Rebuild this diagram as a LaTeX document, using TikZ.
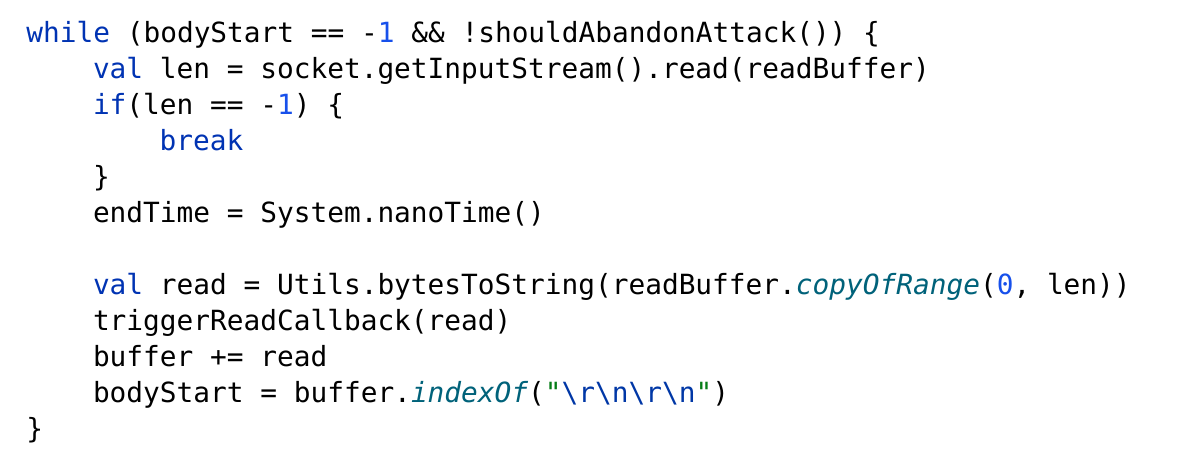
\documentclass[tikz,border=0pt]{standalone}
\usepackage{fontspec}
\newfontfamily\codefont{DejaVu Sans Mono}
\definecolor{kwcol}{HTML}{0033B3}
\definecolor{numcol}{HTML}{1750EB}
\definecolor{fncol}{HTML}{00627A}
\definecolor{strcol}{HTML}{067D17}
\definecolor{esccol}{HTML}{0037A6}
\newcommand\kwd[1]{\textcolor{kwcol}{#1}}
\newcommand\numc[1]{\textcolor{numcol}{#1}}
\newcommand\fnc[1]{\textcolor{fncol}{\itshape #1}}
\newcommand\strc[1]{\textcolor{strcol}{#1}}
\newcommand\escc[1]{\textcolor{esccol}{#1}}
\newcommand\bs{\textbackslash}
\tikzset{codeline/.style={anchor=base west, inner sep=0pt, text=black,
  font=\codefont\fontsize{13.9}{16}\selectfont}}
\begin{document}
\begin{tikzpicture}[x=0.5pt,y=0.5pt]
\path[use as bounding box, fill=white] (0,0) rectangle (1200,-467);
\node[codeline] (l1) at (26,-42) {\kwd{while} (bodyStart == -\numc{1} \&\& !shouldAbandonAttack()) \{};
\node[codeline] (l2) at (92.6,-78) {\kwd{val} len = socket.getInputStream().read(readBuffer)};
\node[codeline] (l3) at (92.6,-114) {\kwd{if}(len == -\numc{1}) \{};
\node[codeline] (l4) at (159.2,-150) {\kwd{break}};
\node[codeline] (l5) at (92.6,-186) {\}};
\node[codeline] (l6) at (92.6,-222) {endTime = System.nanoTime()};
\node[codeline] (l7) at (92.6,-294) {\kwd{val} read = Utils.bytesToString(readBuffer.\fnc{copyOfRange}(\numc{0}, len))};
\node[codeline] (l8) at (92.6,-330) {triggerReadCallback(read)};
\node[codeline] (l9) at (92.6,-366) {buffer += read};
\node[codeline] (l10) at (92.6,-402) {bodyStart = buffer.\fnc{indexOf}(\strc{"}\escc{\bs r\bs n\bs r\bs n}\strc{"})};
\node[codeline] (l11) at (26,-438) {\}};
\end{tikzpicture}
\end{document}
